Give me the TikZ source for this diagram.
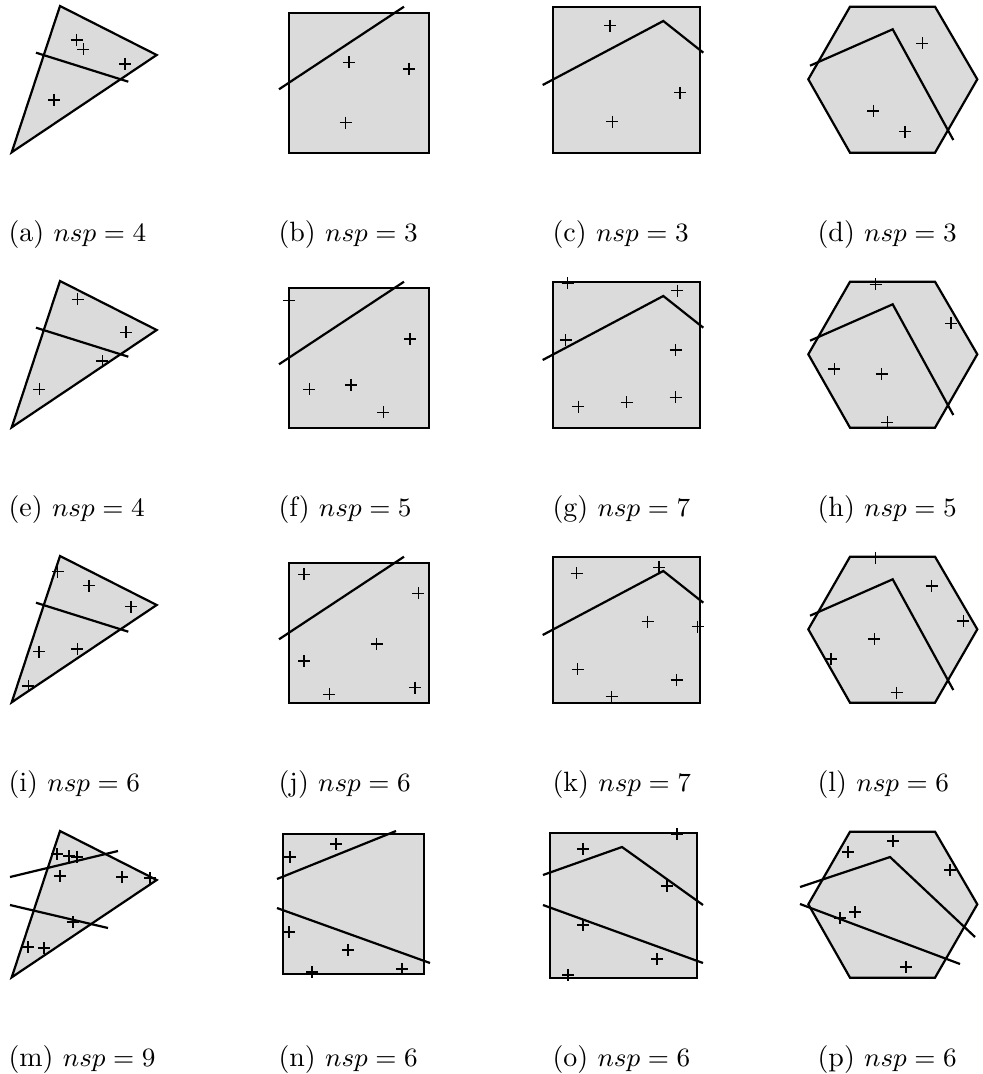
\documentclass[tikz,border=0pt]{standalone}
\begin{document}
\begin{tikzpicture}[x=0.34pt,y=-0.34pt,
  shapefill/.style={fill=black!14,draw=black,line width=0.75pt,line join=miter},
  cutline/.style={draw=black,line width=0.75pt},
  crossline/.style={draw=black,line width=0.4pt},
  caption/.style={anchor=west,inner sep=0pt,font=\fontsize{9.5}{11}\selectfont}]
\useasboundingbox (0,0) rectangle (982,1074);
\newcommand\cross[1]{\draw[crossline] (#1) ++(-6,0) -- ++(12,0) (#1) ++(0,-6) -- ++(0,12);}
\newcommand\tri{\path[shapefill] (60,6) -- (156.7,55) -- (11.7,152.3) -- cycle;}
\newcommand\sqb{\path[shapefill] (289,13.3) rectangle (429,152.7);}
\newcommand\sqc{\path[shapefill] (553.3,6.7) rectangle (700,152.7);}
\newcommand\hexd{\path[shapefill] (850,6.7) -- (935,6.7) -- (977.3,79.3) -- (935,152.7) -- (850,152.7) -- (808.3,79.3) -- cycle;}
\newcommand\cuta{\draw[cutline] (36,52.7) -- (128.3,81.7);}
\newcommand\cutb{\draw[cutline] (279,89.3) -- (404,6.7);}
\newcommand\cutc{\draw[cutline] (542.7,85) -- (663.3,21) -- (703.3,52.7);}
\newcommand\cutd{\draw[cutline] (810,65.7) -- (892.7,29.3) -- (953.3,140);}
% Row 1
\begin{scope}
\tri \cuta
\cross{76.7,40}\cross{83.3,49.3}\cross{125,64}\cross{54,100}
\sqb \cutb
\cross{349,62.3}\cross{409,69}\cross{345.7,122.7}
\sqc \cutc
\cross{610,25.7}\cross{680,92.7}\cross{612.3,121.7}
\hexd \cutd
\cross{922.3,43.3}\cross{873.3,111}\cross{905,131.7}
\node[caption] (ca) at (8,235) {(a) $nsp=4$};
\node[caption] (cb) at (278,235) {(b) $nsp=3$};
\node[caption] (cc) at (552,235) {(c) $nsp=3$};
\node[caption] (cd) at (817,235) {(d) $nsp=3$};
\end{scope}
% Row 2
\begin{scope}[shift={(0,275)}]
\tri \cuta
\cross{77.7,24.3}\cross{126,57.3}\cross{102.3,86}\cross{39.3,114.3}
\sqb \cutb
\cross{289.3,25.7}\cross{410,64}\cross{309.3,114.3}\cross{351,110}\cross{383.3,137.3}
\sqc \cutc
\cross{567.7,8.3}\cross{677.3,15.7}\cross{565.7,65}\cross{675.7,75}\cross{578.3,131.7}\cross{626.7,127.3}\cross{675.7,122.3}
\hexd \cutd
\cross{875.7,9.3}\cross{951,48.3}\cross{834.3,94}\cross{881.7,99}\cross{887.3,147.3}
\node[caption] (ce) at (8,235) {(e) $nsp=4$};
\node[caption] (cf) at (278,235) {(f) $nsp=5$};
\node[caption] (cg) at (552,235) {(g) $nsp=7$};
\node[caption] (ch) at (817,235) {(h) $nsp=5$};
\end{scope}
% Row 3
\begin{scope}[shift={(0,550)}]
\tri \cuta
\cross{57.7,21.7}\cross{89,35.7}\cross{131,56.7}\cross{39,101.7}\cross{77.3,99}\cross{28.3,136}
\sqb \cutb
\cross{304,24.3}\cross{418.3,43.3}\cross{376.7,94}\cross{304,111}\cross{329.3,144.3}\cross{415,137.7}
\sqc \cutc
\cross{576.7,23.3}\cross{659,17.3}\cross{647.7,71.7}\cross{697.7,76.7}\cross{577.7,119.3}\cross{676.7,130}\cross{611.7,146.7}
\hexd \cutd
\cross{875.7,7.7}\cross{931.7,36}\cross{963.3,71}\cross{874.3,89}\cross{831,109}\cross{896.7,142.7}
\node[caption] (ci) at (8,235) {(i) $nsp=6$};
\node[caption] (cj) at (278,235) {(j) $nsp=6$};
\node[caption] (ck) at (552,235) {(k) $nsp=7$};
\node[caption] (cl) at (817,235) {(l) $nsp=6$};
\end{scope}
% Row 4
\begin{scope}[shift={(0,825)}]
\tri
\draw[cutline] (10,52) -- (118,26);
\draw[cutline] (10,80) -- (108,103);
\cross{57,29}\cross{69,31}\cross{77,32}\cross{60,51}\cross{122,52}\cross{150,53}\cross{73,97}\cross{28,122}\cross{44,123}
\path[shapefill] (283,9) rectangle (424,149);
\draw[cutline] (277,54) -- (396,6);
\draw[cutline] (277,83) -- (430,138);
\cross{290,32}\cross{336,19}\cross{289,107}\cross{348,125}\cross{312,147}\cross{402,144}
\path[shapefill] (550,8) rectangle (697,153);
\draw[cutline] (543,50) -- (622,22) -- (703,80);
\draw[cutline] (543,80) -- (703,138);
\cross{583,24}\cross{677,9}\cross{667,61}\cross{583,100}\cross{657,134}\cross{568,150}
\hexd
\draw[cutline] (800,62) -- (890,32) -- (975,112);
\draw[cutline] (800,79) -- (960,139);
\cross{848,27}\cross{893,16}\cross{950,45}\cross{855,87}\cross{840,93}\cross{906,142}
\node[caption] (cm) at (8,235) {(m) $nsp=9$};
\node[caption] (cn) at (278,235) {(n) $nsp=6$};
\node[caption] (co) at (552,235) {(o) $nsp=6$};
\node[caption] (cp) at (817,235) {(p) $nsp=6$};
\end{scope}
\end{tikzpicture}
\end{document}
